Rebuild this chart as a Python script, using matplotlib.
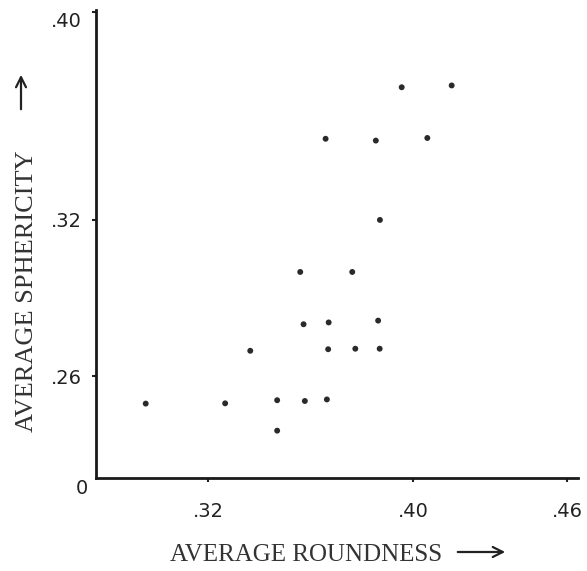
import matplotlib
matplotlib.use("Agg")
import matplotlib.pyplot as plt
import matplotlib.transforms as mtransforms

# Average roundness vs. average sphericity of sand samples
roundness = [0.3955, 0.4150, 0.3658, 0.3854, 0.4055, 0.3870,
             0.3559, 0.3762, 0.3572, 0.3670, 0.3863, 0.3364,
             0.3668, 0.3774, 0.3869, 0.2956, 0.3266, 0.3469,
             0.3577, 0.3663, 0.3469]
sphericity = [0.3710, 0.3717, 0.3512, 0.3505, 0.3515, 0.3200,
              0.3000, 0.3000, 0.2799, 0.2806, 0.2813, 0.2697,
              0.2703, 0.2705, 0.2705, 0.2494, 0.2495, 0.2507,
              0.2504, 0.2510, 0.2390]

x_ticks = [0.32, 0.40, 0.46]
x_tick_labels = [".32", ".40", ".46"]
y_ticks = [0.26, 0.32, 0.40]
y_tick_labels = [".26", ".32", ".40"]

W, H = 587, 571
fig = plt.figure(figsize=(W / 100, H / 100), dpi=100)
ax = fig.add_axes([96 / W, 1 - 478 / H, (578 - 96) / W, (478 - 10) / H])

ax.scatter(roundness, sphericity, s=18, color="#2a2a2a", edgecolors="none", zorder=3)

ax.set_xlim(0.2762, 0.4643)
ax.set_ylim(0.2208, 0.4007)

for side in ("top", "right"):
    ax.spines[side].set_visible(False)
for side in ("left", "bottom"):
    ax.spines[side].set_linewidth(2.0)
    ax.spines[side].set_color("#1a1a1a")

tick_font = {"family": "DejaVu Sans", "size": 14}
ax.set_xticks(x_ticks)
ax.set_xticklabels(x_tick_labels, fontdict=tick_font, color="#222222")
ax.set_yticks(y_ticks)
ax.set_yticklabels(y_tick_labels, fontdict=tick_font, color="#222222")
ax.tick_params(axis="x", direction="out", length=3, width=1.5, pad=14, colors="#222222")
ax.tick_params(axis="y", direction="out", length=3, width=1.5, pad=7, colors="#222222")

# the top label sits a little below its tick
top_label = ax.get_yticklabels()[-1]
top_label.set_transform(top_label.get_transform() +
                        mtransforms.ScaledTranslation(0, -8 / 100, fig.dpi_scale_trans))

# broken-axis origin
fig.text(82 / W, 1 - 488 / H, "0", ha="center", va="center",
         family="DejaVu Sans", fontsize=14, color="#222222")

fig.text(306 / W, 1 - 555 / H, "AVERAGE ROUNDNESS", ha="center", va="center",
         family="Liberation Serif", fontsize=18, color="#333333")
fig.text(27 / W, 1 - 291 / H, "AVERAGE SPHERICITY", ha="center", va="center",
         rotation=90, family="Liberation Serif", fontsize=19, color="#333333")

arrow_style = dict(arrowstyle="->", color="#222222", lw=1.6, mutation_scale=18)
fig.add_artist(matplotlib.patches.FancyArrowPatch(
    (455 / W, 1 - 552 / H), (508 / W, 1 - 552 / H),
    transform=fig.transFigure, **arrow_style))
fig.add_artist(matplotlib.patches.FancyArrowPatch(
    (21 / W, 1 - 112 / H), (21 / W, 1 - 72 / H),
    transform=fig.transFigure, **arrow_style))

fig.savefig("out.png", dpi=100, facecolor="white")
